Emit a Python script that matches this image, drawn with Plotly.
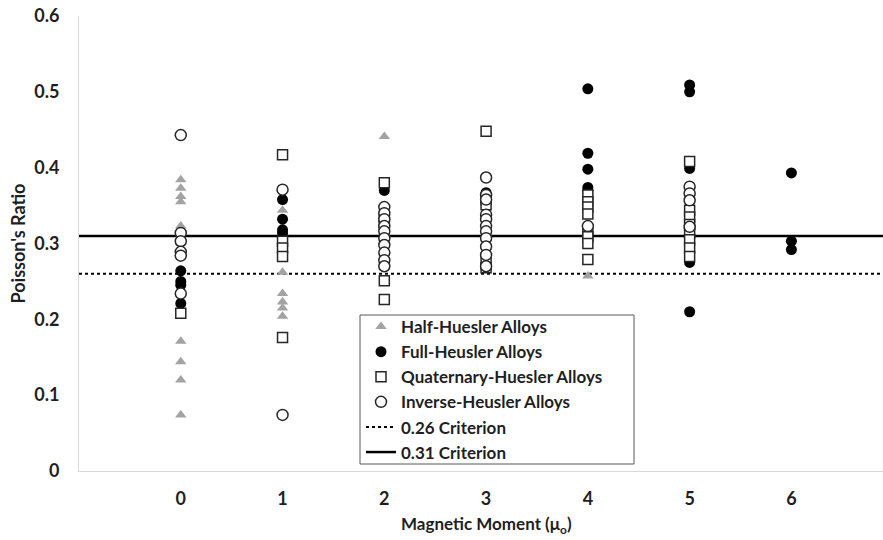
import plotly.graph_objects as go

# Poisson's ratio of Heusler-type alloys grouped by magnetic moment
half_moment = [0, 0, 0, 0, 0, 0, 0, 0, 0, 1, 1, 1, 1, 1, 1, 2, 4]
half_ratio = [0.384, 0.373, 0.362, 0.355, 0.323, 0.171, 0.144, 0.120, 0.074,
              0.344, 0.262, 0.234, 0.223, 0.215, 0.204, 0.441, 0.257]

full_moment = [0, 0, 0, 0, 1, 1, 1, 1, 2, 3, 3, 4, 4, 4, 4, 4,
               5, 5, 5, 5, 5, 6, 6, 6]
full_ratio = [0.264, 0.250, 0.245, 0.221, 0.358, 0.332, 0.318, 0.314, 0.370,
              0.367, 0.362, 0.504, 0.419, 0.398, 0.374, 0.370,
              0.509, 0.500, 0.399, 0.275, 0.210, 0.393, 0.303, 0.292]

quat_moment = [0, 1, 1, 1, 1, 1, 2, 2, 2, 2, 2, 3, 3, 3, 3, 3,
               4, 4, 4, 4, 4, 4, 4, 4, 5, 5, 5, 5, 5, 5, 5, 5]
quat_ratio = [0.208, 0.417, 0.303, 0.294, 0.283, 0.176,
              0.380, 0.335, 0.325, 0.251, 0.226,
              0.448, 0.358, 0.351, 0.276, 0.268,
              0.364, 0.355, 0.348, 0.339, 0.318, 0.309, 0.300, 0.279,
              0.408, 0.344, 0.335, 0.325, 0.314, 0.305, 0.294, 0.283]

inv_moment = [0, 0, 0, 0, 0, 0, 1, 1, 2, 2, 2, 2, 2, 2, 2, 2, 2, 2,
              3, 3, 3, 3, 3, 3, 3, 3, 3, 3, 3, 4, 5, 5, 5, 5]
inv_ratio = [0.443, 0.314, 0.303, 0.289, 0.284, 0.234, 0.371, 0.074,
             0.348, 0.340, 0.332, 0.323, 0.316, 0.307, 0.298, 0.288, 0.278, 0.270,
             0.387, 0.364, 0.358, 0.338, 0.332, 0.323, 0.316, 0.307, 0.296, 0.285, 0.270,
             0.323, 0.375, 0.366, 0.357, 0.322]

x_ticks = [0, 1, 2, 3, 4, 5, 6]
x_span = [-1, 6.9]
criterion_low = 0.26
criterion_high = 0.31

FONT = "Lato, 'Open Sans', sans-serif"
TEXT = "#1f1f1f"

# plot area in pixels, used to place the legend frame in paper units
PLOT_L, PLOT_R, PLOT_T, PLOT_B = 79, 883, 16, 471


def px_x(px):
    return (px - PLOT_L) / (PLOT_R - PLOT_L)


def px_y(py):
    return (PLOT_B - py) / (PLOT_B - PLOT_T)


fig = go.Figure()

fig.add_trace(go.Scatter(
    x=x_span, y=[criterion_low, criterion_low], mode="lines",
    name="0.26 Criterion", legendrank=5,
    line=dict(color="black", width=2, dash="dot"), hoverinfo="skip"))
fig.add_trace(go.Scatter(
    x=x_span, y=[criterion_high, criterion_high], mode="lines",
    name="0.31 Criterion", legendrank=6,
    line=dict(color="black", width=2.5), hoverinfo="skip"))

fig.add_trace(go.Scatter(
    x=half_moment, y=half_ratio, mode="markers", name="Half-Huesler Alloys",
    legendrank=1,
    marker=dict(symbol="triangle-up", size=10, color="#a3a3a3",
                line=dict(width=0))))
fig.add_trace(go.Scatter(
    x=full_moment, y=full_ratio, mode="markers", name="Full-Heusler Alloys",
    legendrank=2,
    marker=dict(symbol="circle", size=11, color="black",
                line=dict(width=0))))
fig.add_trace(go.Scatter(
    x=quat_moment, y=quat_ratio, mode="markers", name="Quaternary-Huesler Alloys",
    legendrank=3,
    marker=dict(symbol="square", size=10, color="white",
                line=dict(color="#262626", width=1.5))))
fig.add_trace(go.Scatter(
    x=inv_moment, y=inv_ratio, mode="markers", name="Inverse-Heusler Alloys",
    legendrank=4,
    marker=dict(symbol="circle", size=11, color="white",
                line=dict(color="#262626", width=1.5))))

# legend frame drawn as a filled box over the data; the legend entries sit on top
fig.add_shape(
    type="rect", xref="paper", yref="paper", layer="above",
    x0=px_x(360), x1=px_x(634), y0=px_y(464), y1=px_y(315),
    fillcolor="white", line=dict(color="#595959", width=1))

fig.update_layout(
    width=883, height=540,
    margin=dict(l=PLOT_L, r=883 - PLOT_R, t=PLOT_T, b=540 - PLOT_B),
    paper_bgcolor="white", plot_bgcolor="white",
    font=dict(family=FONT, color=TEXT, size=18),
    showlegend=True,
    legend=dict(
        x=px_x(361), y=px_y(309),
        xanchor="left", yanchor="top",
        bgcolor="rgba(0,0,0,0)", borderwidth=0,
        font=dict(family=FONT, size=17, color=TEXT, weight="bold"),
        tracegroupgap=0,
    ),
    xaxis=dict(
        range=x_span, tickvals=x_ticks, ticktext=[str(v) for v in x_ticks],
        showgrid=False, zeroline=False,
        showline=True, linecolor="#d9d9d9", linewidth=1,
        ticks="outside", ticklen=11, tickcolor="rgba(0,0,0,0)",
        tickfont=dict(family=FONT, size=18, color=TEXT, weight="bold"),
    ),
    yaxis=dict(
        range=[0, 0.6], dtick=0.1, tick0=0,
        showgrid=False, zeroline=False,
        showline=True, linecolor="#d9d9d9", linewidth=1,
        ticks="outside", ticklen=15, tickcolor="rgba(0,0,0,0)",
        tickfont=dict(family=FONT, size=18, color=TEXT, weight="bold"),
        title=dict(text="Poisson's Ratio", standoff=3,
                   font=dict(family=FONT, size=18, color=TEXT, weight="bold")),
    ),
)

fig.add_annotation(
    x=3, xref="x", y=-(525 - PLOT_B) / (PLOT_B - PLOT_T), yref="paper",
    yanchor="middle",
    text="Magnetic Moment (μ<sub>o</sub>)", showarrow=False,
    font=dict(family=FONT, size=17, color=TEXT, weight="bold"))

fig.write_html("out.html")
